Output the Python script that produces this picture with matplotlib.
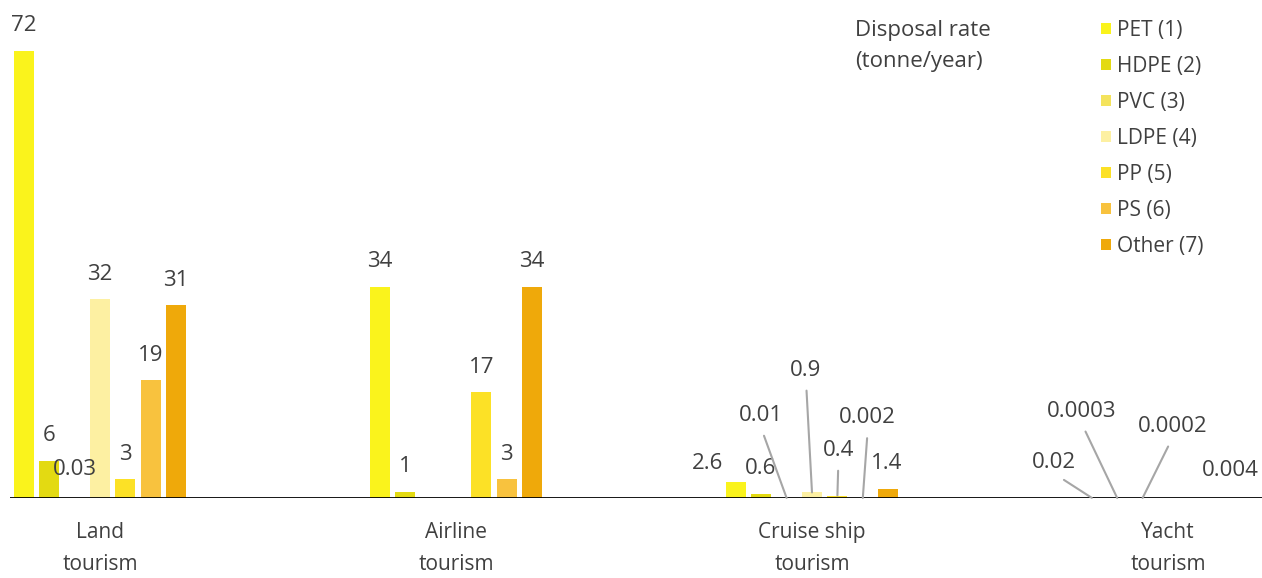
import numpy as np
import matplotlib
matplotlib.use("Agg")
from matplotlib import pyplot as plt

# disposal rate of plastic waste per tourism type (tonne/year)
groups = ["Land\ntourism", "Airline\ntourism", "Cruise ship\ntourism", "Yacht\ntourism"]
series = ["PET (1)", "HDPE (2)", "PVC (3)", "LDPE (4)", "PP (5)", "PS (6)", "Other (7)"]
colors = ["#FAF31C", "#E3DA12", "#F4E35C", "#FDF0A2", "#FCE126", "#F8C23E", "#EFA90A"]

pet = [72, 34, 2.6, 0.02]
hdpe = [6, 1, 0.6, 0.0003]
pvc = [0.03, np.nan, 0.01, 0.0002]
ldpe = [32, np.nan, 0.9, np.nan]
pp = [3, 17, 0.4, np.nan]
ps = [19, 3, 0.002, np.nan]
other = [31, 34, 1.4, 0.004]
values = [pet, hdpe, pvc, ldpe, pp, ps, other]

# label offsets in pixels (dx, dy from bar top) where labels were moved by hand
moved = {
    (0, 2): (0, 28),
    (2, 0): (-28, 18), (2, 1): (-1, 26), (2, 2): (-26, 82), (2, 3): (-6, 122),
    (2, 4): (1, 45), (2, 5): (5, 80), (2, 6): (-2, 26),
    (3, 0): (-38, 35), (3, 1): (-36, 86), (3, 2): (30, 71), (3, 6): (-14, 27),
}
leaders = {(2, 2), (2, 3), (2, 4), (2, 5), (3, 0), (3, 1), (3, 2)}

plt.rcParams['font.family'] = ['Open Sans', 'DejaVu Sans']
txt = "#404040"

fig = plt.figure(figsize=(12.62, 5.78), dpi=100)
ax = fig.add_axes([10/1262, 80/578, 1 - 10/1262, 1 - 80/578])

x = np.arange(len(groups))
step = 25.4/356
width = 20/356
for i, (name, vals, c) in enumerate(zip(series, values, colors)):
  xs = x + (i - 3)*step
  ax.bar(xs, vals, width, color=c, label=name)
  for g, v in enumerate(vals):
    if np.isnan(v):
      continue
    dx, dy = moved.get((g, i), (0, 25))
    arrow = None
    if (g, i) in leaders:
      arrow = dict(arrowstyle="-", color="#a6a6a6", lw=1.5, shrinkA=5, shrinkB=0,
                   relpos=(0.5, 0))
    ax.annotate(f"{v:g}", xy=(xs[g], v), xytext=(dx, dy), textcoords="offset pixels",
                ha="center", va="center", fontsize=16, color=txt, arrowprops=arrow)

ax.axhline(0, color="black", lw=2)
ax.set_xlim((10 - 100)/356, (1262 - 100)/356)
ax.set_ylim(0, 498/6.21)
ax.set_xticks(x)
ax.set_xticklabels(groups, fontsize=15, color=txt, linespacing=1.7)
ax.tick_params(axis="x", length=0, pad=17)
ax.set_yticks([])
for s in ax.spines.values():
  s.set_visible(False)

fig.text(855/1262, 1 - 20/578, "Disposal rate\n(tonne/year)", ha="left", va="top",
         fontsize=16, color=txt, linespacing=1.6)
leg = ax.legend(loc="upper left", bbox_to_anchor=(1082/1262, 1 - 1/578),
                bbox_transform=fig.transFigure, frameon=False, fontsize=15,
                handlelength=0.48, handleheight=0.48, handletextpad=0.3,
                labelspacing=0.72)
for t in leg.get_texts():
  t.set_color(txt)

plt.savefig("out.png", dpi=100)
